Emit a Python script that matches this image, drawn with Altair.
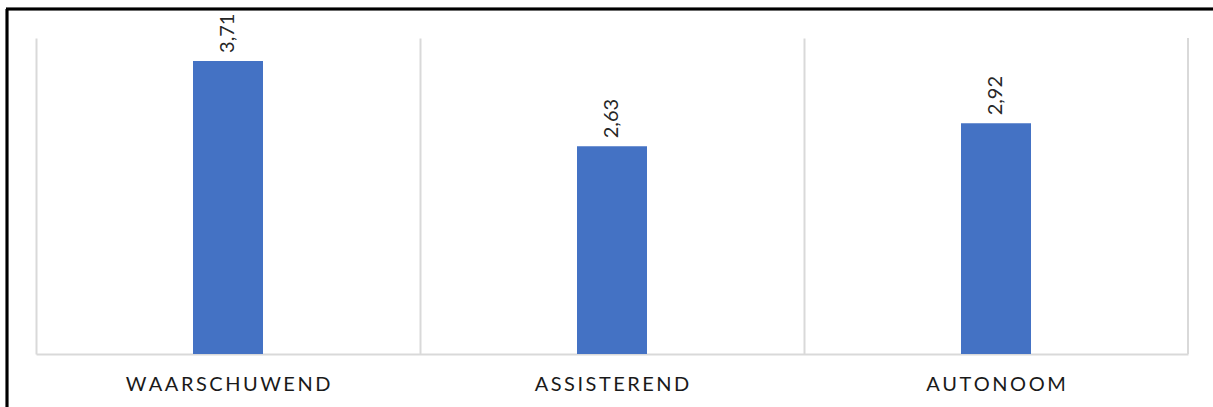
import altair as alt
import pandas as pd

categories = ["WAARSCHUWEND", "ASSISTEREND", "AUTONOOM"]
values = [3.71, 2.63, 2.92]

df = pd.DataFrame({"category": categories, "value": values})

W, H = 1152, 316

base = alt.Chart(df)

bars = base.mark_bar(color="#4472C4", size=70).encode(
    x=alt.X(
        "category:N",
        sort=categories,
        scale=alt.Scale(paddingInner=0, paddingOuter=0),
        axis=alt.Axis(
            title=None,
            grid=True,
            bandPosition=0,
            gridColor="#d9d9d9",
            gridWidth=2,
            domain=True,
            domainColor="#d9d9d9",
            domainWidth=2,
            ticks=False,
            labelAngle=0,
            labelPadding=20,
            labelLimit=0,
            labelFont="Lato",
            labelFontSize=20,
            labelColor="#1a1a1a",
            labelExpr="join(split(datum.label, ''), '\u2009')",
        ),
    ),
    y=alt.Y("value:Q", scale=alt.Scale(domain=[0, 4], nice=False, zero=True), axis=None),
)

labels = base.transform_calculate(
    lbl="replace(format(datum.value, '.2f'), '.', ',')"
).mark_text(
    angle=270, align="left", baseline="middle", dx=8,
    font="Lato", fontSize=20, color="#262626",
).encode(
    x=alt.X("category:N", sort=categories),
    y=alt.Y("value:Q"),
    text="lbl:N",
)

right_grid = base.mark_rule(color="#d9d9d9", strokeWidth=2).encode(
    x=alt.value(W), y=alt.value(0), y2=alt.value(H)
)

frame_left = base.mark_rule(color="#000000", strokeWidth=2.5).encode(
    x=alt.value(-29), y=alt.value(-29), y2=alt.value(380)
)
frame_top = base.mark_rule(color="#000000", strokeWidth=2.5).encode(
    x=alt.value(-30), x2=alt.value(1190), y=alt.value(-29)
)

chart = alt.layer(bars, labels, right_grid, frame_left, frame_top).properties(
    width=W,
    height=H,
    autosize=alt.AutoSizeParams(type="none"),
    padding={"left": 36, "top": 38, "right": 25, "bottom": 53},
    background="white",
).configure_view(stroke=None)

chart.save("out.html", embed_options={"renderer": "svg", "actions": False})
